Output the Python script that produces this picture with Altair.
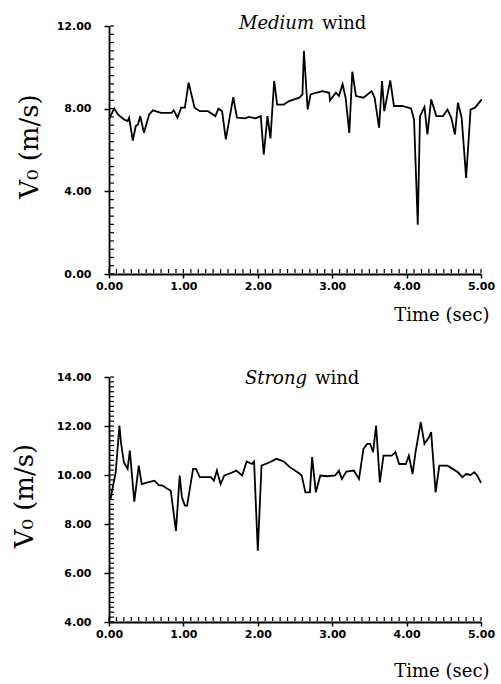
import altair as alt
import pandas as pd

# ---- data ----
t_medium = [0.00, 0.07, 0.12, 0.20, 0.25, 0.27, 0.32, 0.36, 0.39, 0.42, 0.47, 0.54, 0.59, 0.70,
            0.84, 0.87, 0.92, 0.97, 1.02, 1.07, 1.15, 1.22, 1.33, 1.43, 1.47, 1.52, 1.57, 1.67,
            1.72, 1.83, 1.88, 1.97, 2.04, 2.08, 2.13, 2.17, 2.22, 2.26, 2.35, 2.42, 2.49, 2.56,
            2.60, 2.62, 2.67, 2.71, 2.78, 2.87, 2.96, 2.97, 3.05, 3.09, 3.14, 3.18, 3.23, 3.27,
            3.32, 3.42, 3.53, 3.57, 3.63, 3.67, 3.70, 3.78, 3.83, 3.94, 4.06, 4.10, 4.15, 4.18,
            4.24, 4.28, 4.33, 4.40, 4.49, 4.55, 4.60, 4.65, 4.69, 4.74, 4.80, 4.86, 4.92, 5.01]
v_medium = [7.48, 8.01, 7.72, 7.48, 7.40, 7.56, 6.46, 7.16, 7.24, 7.64, 6.83, 7.72, 7.92, 7.80,
            7.80, 7.92, 7.56, 8.05, 8.05, 9.26, 8.05, 7.88, 7.88, 7.64, 8.00, 7.88, 6.51, 8.56,
            7.56, 7.53, 7.60, 7.53, 7.64, 5.78, 7.64, 6.56, 9.34, 8.20, 8.20, 8.37, 8.45, 8.53,
            8.69, 10.79, 7.96, 8.69, 8.77, 8.85, 8.77, 8.40, 8.77, 8.61, 9.18, 8.53, 6.83, 9.79,
            8.61, 8.53, 8.85, 8.53, 7.08, 9.34, 7.88, 9.37, 8.13, 8.13, 8.01, 7.48, 2.39, 7.64,
            8.08, 6.75, 8.45, 7.64, 7.64, 7.96, 7.56, 6.75, 8.29, 7.56, 4.65, 7.96, 8.05, 8.45]

t_strong = [0.02, 0.09, 0.14, 0.16, 0.20, 0.25, 0.28, 0.34, 0.40, 0.44, 0.52, 0.61, 0.67, 0.72,
            0.77, 0.83, 0.90, 0.95, 0.98, 1.02, 1.05, 1.13, 1.17, 1.22, 1.37, 1.41, 1.45, 1.50,
            1.55, 1.64, 1.71, 1.79, 1.85, 1.92, 1.95, 2.00, 2.05, 2.16, 2.25, 2.35, 2.43, 2.55,
            2.59, 2.64, 2.70, 2.73, 2.78, 2.84, 2.93, 3.04, 3.09, 3.13, 3.19, 3.29, 3.36, 3.42,
            3.47, 3.51, 3.55, 3.59, 3.64, 3.69, 3.76, 3.80, 3.85, 3.90, 3.99, 4.03, 4.08, 4.12,
            4.19, 4.24, 4.30, 4.33, 4.39, 4.44, 4.55, 4.62, 4.69, 4.75, 4.80, 4.86, 4.91, 4.95, 5.00]
v_strong = [9.02, 10.11, 12.02, 11.34, 10.52, 10.25, 11.00, 8.91, 10.38, 9.63, 9.70, 9.77, 9.59, 9.57,
            9.47, 9.36, 7.72, 9.98, 9.09, 8.75, 8.75, 10.25, 10.25, 9.91, 9.91, 9.77, 10.18, 9.63,
            9.98, 10.08, 10.18, 9.98, 10.55, 10.45, 10.55, 6.91, 10.38, 10.52, 10.66, 10.55, 10.32, 10.08,
            9.98, 9.29, 9.29, 10.73, 9.29, 9.98, 9.95, 9.98, 10.18, 9.84, 10.14, 10.18, 9.84, 11.07,
            11.27, 11.27, 10.93, 12.02, 9.70, 10.79, 10.79, 10.79, 10.93, 10.45, 10.45, 10.79, 10.04, 10.93,
            12.16, 11.27, 11.54, 11.75, 9.29, 10.38, 10.38, 10.25, 10.11, 9.91, 10.04, 10.00, 10.11, 9.98, 9.68]

x_major = [0, 1, 2, 3, 4, 5]
x_minor = [round(i * 0.1, 2) for i in range(51)]
y_major_medium = [0, 4, 8, 12]
y_minor_medium = [round(i * 0.4, 2) for i in range(31)]
y_major_strong = [4, 6, 8, 10, 12, 14]
y_minor_strong = [round(4 + i * 0.2, 2) for i in range(51)]

title_medium = ["Medium", "wind"]
title_strong = ["Strong", "wind"]
x_title = "Time (sec)"
y_title = "V\u2080 (m/s)"

W = 372
LABEL_FONT = "DejaVu Sans"
SERIF = "DejaVu Serif"


def panel(t, v, ydom, ymaj, ymin, H, words, word_x, word_y, xtitle_y, ytitle_x):
    df = pd.DataFrame({"t": t, "v": v})
    xs = alt.Scale(domain=[0, 5], nice=False, zero=False)
    ys = alt.Scale(domain=ydom, nice=False, zero=False)
    xaxis = alt.Axis(
        orient="bottom", values=x_major, format=".2f", grid=False,
        domainColor="black", domainWidth=1.8, tickColor="black", tickWidth=1.5, tickSize=4,
        labelFont=LABEL_FONT, labelFontWeight="bold", labelFontSize=11, labelColor="black",
        labelPadding=2, labelFlush=False,
        title=x_title, titleFont=SERIF, titleFontSize=18, titleFontWeight="normal",
        titleColor="black", titleAnchor="end", titleAlign="right", titleBaseline="middle",
        titleX=W + 8, titleY=xtitle_y)
    yaxis = alt.Axis(
        orient="left", values=ymaj, format=".2f", grid=False,
        domainColor="black", domainWidth=1.8, tickColor="black", tickWidth=1.5, tickSize=5,
        labelFont=LABEL_FONT, labelFontWeight="bold", labelFontSize=11, labelColor="black",
        labelPadding=13, labelFlush=False,
        title=y_title, titleFont=SERIF, titleFontSize=26, titleFontWeight="normal",
        titleColor="black", titleAngle=-90, titleAlign="center", titleBaseline="middle",
        titleX=ytitle_x, titleY=H / 2 - 4)
    line = alt.Chart(df).mark_line(color="black", strokeWidth=1.8, interpolate="linear").encode(
        x=alt.X("t:Q", scale=xs, axis=xaxis),
        y=alt.Y("v:Q", scale=ys, axis=yaxis),
    )
    ytick = alt.Chart(pd.DataFrame({"m": ymin})).mark_tick(
        orient="horizontal", size=4, thickness=1.2, color="black", opacity=1).encode(
        y=alt.Y("m:Q", scale=ys, axis=yaxis), x=alt.value(3))
    xtick = alt.Chart(pd.DataFrame({"m": x_minor})).mark_tick(
        orient="vertical", size=4, thickness=1.2, color="black", opacity=1).encode(
        x=alt.X("m:Q", scale=xs, axis=xaxis), y=alt.value(H - 3))
    w1 = alt.Chart(pd.DataFrame({"w": [words[0]]})).mark_text(
        font=SERIF, fontSize=18, fontStyle="italic", align="right", baseline="alphabetic",
        color="black").encode(text="w:N", x=alt.value(word_x), y=alt.value(word_y))
    w2 = alt.Chart(pd.DataFrame({"w": [words[1]]})).mark_text(
        font=SERIF, fontSize=18, align="left", baseline="alphabetic",
        color="black").encode(text="w:N", x=alt.value(word_x + 8), y=alt.value(word_y))
    return alt.layer(line, ytick, xtick, w1, w2).properties(width=W, height=H)


top = panel(t_medium, v_medium, [0, 12], y_major_medium, y_minor_medium, 248,
            title_medium, 205, 3, 41, -80)
bottom = panel(t_strong, v_strong, [4, 14], y_major_strong, y_minor_strong, 245,
               title_strong, 198, 7, 49, -85)

chart = alt.vconcat(top, bottom, spacing=103, bounds="flush").properties(
    padding={"left": 10, "top": 15, "right": 5, "bottom": 5}
).configure_view(stroke=None)

chart.save("out.html", embed_options={"renderer": "svg", "actions": False})
